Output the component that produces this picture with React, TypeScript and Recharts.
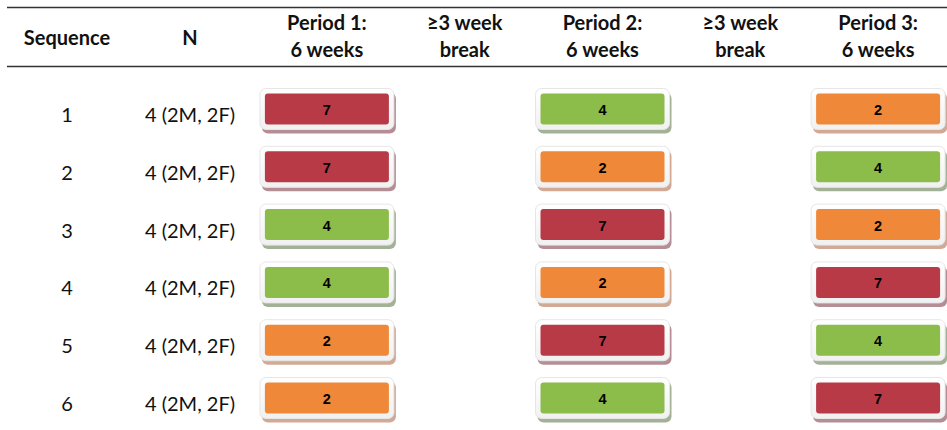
import React from 'react';
import { ScatterChart, Scatter, XAxis, YAxis } from 'recharts';

// ---- data ----
const sequences = [1, 2, 3, 4, 5, 6];
const nLabels = ['4 (2M, 2F)', '4 (2M, 2F)', '4 (2M, 2F)', '4 (2M, 2F)', '4 (2M, 2F)', '4 (2M, 2F)'];
const period1Doses = [7, 7, 4, 4, 2, 2];
const period2Doses = [4, 2, 7, 2, 7, 4];
const period3Doses = [2, 4, 2, 7, 4, 7];
const columnHeaders: string[][] = [
  ['Period 1:', '6 weeks'],
  ['\u22653 week', 'break'],
  ['Period 2:', '6 weeks'],
  ['\u22653 week', 'break'],
  ['Period 3:', '6 weeks'],
];
const leftHeaders = ['Sequence', 'N'];
const periodColumns = [0, 2, 4];

// ---- styles ----
const W = 947;
const H = 430;
const FONT = 'Lato, "Open Sans", sans-serif';
const doseStyle: Record<number, { fill: string; shadow: string }> = {
  7: { fill: '#B83A47', shadow: '#b58e95' },
  4: { fill: '#8CBC4A', shadow: '#a3b296' },
  2: { fill: '#EF8838', shadow: '#d2a995' },
};
const SEQ_X = 67;
const N_X = 190;

const buildSeries = (doses: number[], col: number) =>
  sequences.map((s, i) => ({ seq: s, col, dose: doses[i] }));

const seriesData = [
  buildSeries(period1Doses, periodColumns[0]),
  buildSeries(period2Doses, periodColumns[1]),
  buildSeries(period3Doses, periodColumns[2]),
];

const DoseBox = (props: any) => {
  const { cx, cy, payload } = props;
  if (cx == null || cy == null) return null;
  const st = doseStyle[payload.dose];
  const by = cy - 6;
  const iw = 124;
  const ih = 31;
  const pad = 5;
  const fw = iw + pad * 2;
  const fh = ih + pad * 2;
  return (
    <g>
      <rect x={cx - fw / 2 + 2} y={by - fh / 2 + 4} width={fw} height={fh} rx={6} fill={st.shadow} />
      <rect x={cx - fw / 2} y={by - fh / 2} width={fw} height={fh} rx={6} fill="url(#frameGrad)" stroke="#e6e6e6" strokeWidth={1} />
      <rect x={cx - iw / 2} y={by - ih / 2} width={iw} height={ih} rx={3} fill={st.fill} />
      <text x={cx} y={by + 6} textAnchor="middle" fontFamily='"Liberation Sans", Arial, sans-serif' fontWeight="bold" fontSize={14.5} fill="#000">
        {payload.dose}
      </text>
    </g>
  );
};

const HeaderTick = (props: any) => {
  const { x, payload } = props;
  const lines = columnHeaders[payload.value];
  if (!lines) return null;
  return (
    <g>
      <text x={x} y={30} textAnchor="middle" fontFamily={FONT} fontWeight="bold" fontSize={20} fill="#111">
        {lines[0]}
      </text>
      <text x={x} y={57} textAnchor="middle" fontFamily={FONT} fontWeight="bold" fontSize={20} fill="#111">
        {lines[1]}
      </text>
    </g>
  );
};

const RowTick = (props: any) => {
  const { y, payload } = props;
  const idx = sequences.indexOf(payload.value);
  if (idx < 0) return null;
  return (
    <g>
      <text x={SEQ_X} y={y + 7} textAnchor="middle" fontFamily={FONT} fontSize={20} fill="#111">
        {sequences[idx]}
      </text>
      <text x={N_X} y={y + 7} textAnchor="middle" fontFamily={FONT} fontSize={20} fill="#111">
        {nLabels[idx]}
      </text>
    </g>
  );
};

export default function App() {
  return (
    <div style={{ position: 'absolute', left: 0, top: 0, width: W, height: H, background: '#fff' }}>
      <ScatterChart width={W} height={H} margin={{ top: 8, right: 0, bottom: 26, left: 0 }}>
        <defs>
          <linearGradient id="frameGrad" x1="0" y1="0" x2="0" y2="1">
            <stop offset="0%" stopColor="#ffffff" />
            <stop offset="100%" stopColor="#f1f1f1" />
          </linearGradient>
        </defs>
        <XAxis
          xAxisId={0}
          type="number"
          dataKey="col"
          orientation="top"
          height={107}
          domain={[-0.5, 4.5]}
          ticks={[0, 1, 2, 3, 4]}
          interval={0}
          axisLine={false}
          tickLine={false}
          tick={<HeaderTick />}
        />
        <YAxis
          yAxisId={0}
          type="number"
          dataKey="seq"
          domain={[1, 6]}
          reversed
          width={258}
          ticks={sequences}
          interval={0}
          axisLine={false}
          tickLine={false}
          tick={<RowTick />}
        />
        {seriesData.map((d, i) => (
          <Scatter key={i} data={d} shape={<DoseBox />} isAnimationActive={false} />
        ))}
        <line x1={7} x2={W} y1={7.5} y2={7.5} stroke="#333" strokeWidth={1.4} />
        <line x1={7} x2={W} y1={66.5} y2={66.5} stroke="#333" strokeWidth={1.4} />
        <text x={SEQ_X} y={45} textAnchor="middle" fontFamily={FONT} fontWeight="bold" fontSize={20} fill="#111">
          {leftHeaders[0]}
        </text>
        <text x={N_X} y={45} textAnchor="middle" fontFamily={FONT} fontWeight="bold" fontSize={20} fill="#111">
          {leftHeaders[1]}
        </text>
      </ScatterChart>
    </div>
  );
}
